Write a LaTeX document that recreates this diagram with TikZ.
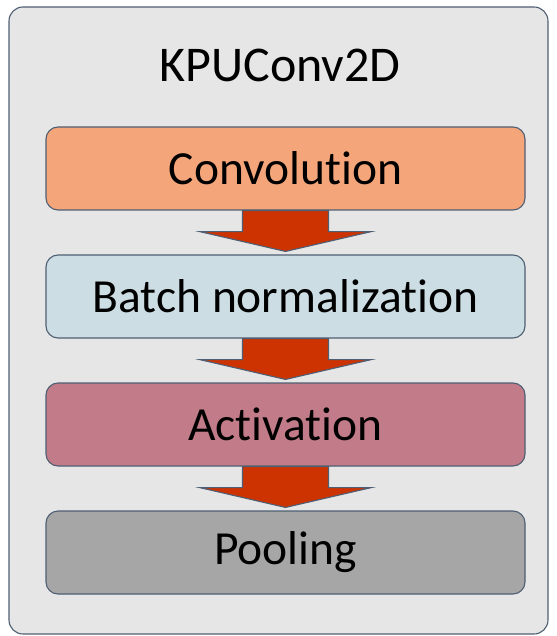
\documentclass[tikz,border=0pt]{standalone}
\usepackage{fontspec}
\setmainfont[Ligatures=NoCommon]{Carlito}
\usetikzlibrary{calc}
\definecolor{outerfill}{HTML}{E6E6E6}
\definecolor{edge}{HTML}{4F5F73}
\definecolor{convfill}{HTML}{F4A57A}
\definecolor{bnfill}{HTML}{CCDDE3}
\definecolor{actfill}{HTML}{C27B88}
\definecolor{poolfill}{HTML}{A6A6A6}
\definecolor{arrowfill}{HTML}{CC3300}
\tikzset{
  layerbox/.style={draw=edge, line width=1.1pt, rounded corners=12pt, minimum width=479pt, minimum height=83pt, inner sep=0pt, font=\fontsize{47.5}{56}\selectfont},
  blockarrow/.style={draw=edge, line width=1.1pt, fill=arrowfill, line join=miter}
}
\begin{document}
\begin{tikzpicture}[x=1pt,y=-1pt]
\useasboundingbox (0,0) rectangle (556,636);
\node[draw=edge, line width=1.1pt, fill=outerfill, rounded corners=14pt, minimum width=539pt, minimum height=627pt, inner sep=0pt] (outer) at (278.5,320.5) {};
\node[font=\fontsize{50}{58}\selectfont] (title) at (280,65) {KPUConv2D};
\node[layerbox, fill=convfill] (conv) at (285.5,168.5) {Convolution};
\node[layerbox, fill=bnfill] (bn) at (285.5,296.5) {Batch normalization};
\node[layerbox, fill=actfill] (act) at (285.5,424.5) {Activation};
\node[layerbox, fill=poolfill] (pool) at (285.5,552.5) {Pooling};
\foreach \a/\b in {conv/bn, bn/act, act/pool}{
  \draw[blockarrow] ($(\a.south)+(-43,0)$) -- ($(\a.south)+(43,0)$) -- ($(\a.south)+(43,21)$) -- ($(\a.south)+(86,21)$) -- ($(\b.north)+(0,-3)$) -- ($(\a.south)+(-86,21)$) -- ($(\a.south)+(-43,21)$) -- cycle;
}
\end{tikzpicture}
\end{document}
